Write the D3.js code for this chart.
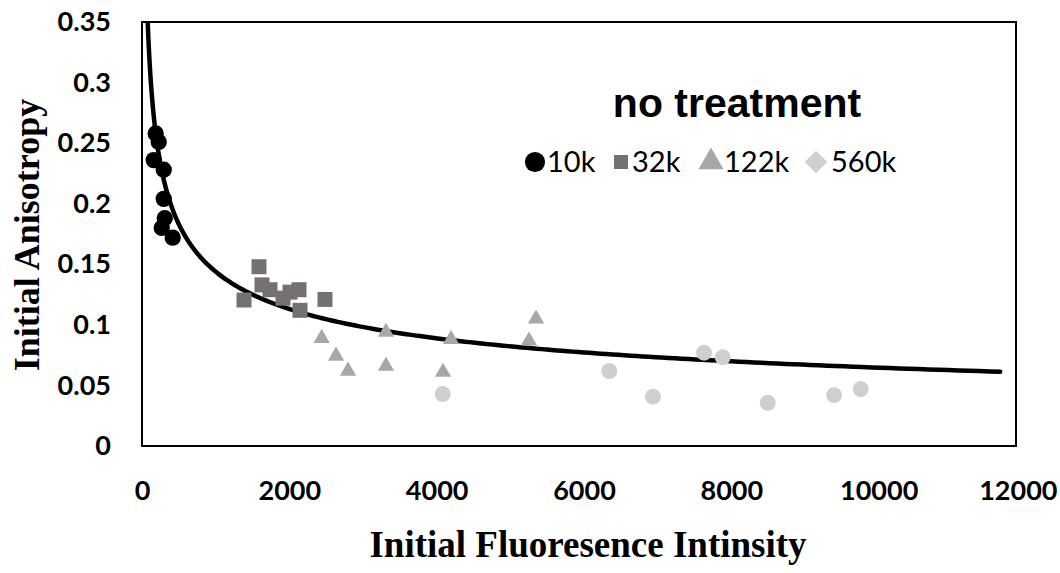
<!DOCTYPE html>
<html>
<head>
<meta charset="utf-8">
<script src="https://cdn.jsdelivr.net/npm/d3@7"></script>
<style>
  html, body { margin: 0; padding: 0; background: #fff; }
  svg { display: block; }
</style>
</head>
<body>
<svg id="chart" width="1060" height="573"></svg>
<script>
// Initial fluorescence intensity vs. initial anisotropy, four molecular weights
const seriesNames = ["10k", "32k", "122k", "560k"];

const x10k = [186, 227, 159, 295, 295, 309, 268, 417];
const y10k = [0.258, 0.251, 0.236, 0.228, 0.204, 0.188, 0.180, 0.172];

const x32k = [1385, 1588, 1629, 1738, 1914, 2009, 2131, 2145, 2484];
const y32k = [0.1205, 0.148, 0.133, 0.129, 0.122, 0.127, 0.129, 0.112, 0.121];

const x122k = [2439, 2634, 2797, 3312, 3312, 4195, 4086, 5349, 5253];
const y122k = [0.089, 0.0743, 0.0619, 0.094, 0.066, 0.088, 0.061, 0.105, 0.0868];

const x560k = [4082, 6343, 6937, 7629, 7883, 8494, 9394, 9756];
const y560k = [0.0429, 0.0619, 0.0407, 0.077, 0.0732, 0.0357, 0.042, 0.047];

// Power trendline y = a * x^b over all points
const trendA = 1.587;
const trendB = -0.3475;
const trendEnd = 11650;

const xTicks = [0, 2000, 4000, 6000, 8000, 10000, 12000];
const yTicks = [0, 0.05, 0.1, 0.15, 0.2, 0.25, 0.3, 0.35];

const titleText = "no treatment";
const xTitle = "Initial Fluoresence Intinsity";
const yTitle = "Initial Anisotropy";

const colors = ["#000000", "#767171", "#a8a6a6", "#d0cece"];

const svg = d3.select("#chart");

const x = d3.scaleLinear().domain([0, 12000]).range([142, 1026]);
const y = d3.scaleLinear().domain([0, 0.35]).range([446, 22]);

// plot frame
svg.append("rect")
  .attr("x", 142).attr("y", 22)
  .attr("width", 874).attr("height", 424)
  .attr("fill", "none").attr("stroke", "#000").attr("stroke-width", 2);

// axes (labels only)
const xAxis = svg.append("g")
  .attr("transform", "translate(0,478)")
  .call(d3.axisBottom(x).tickValues(xTicks).tickSize(0).tickFormat(d3.format("d")));
xAxis.select(".domain").remove();
xAxis.selectAll("text")
  .attr("dy", "0.71em")
  .style("font-family", "Lato, sans-serif")
  .style("font-weight", "bold")
  .style("font-size", "27px")
  .attr("fill", "#000");
// keep the last label inside the page
xAxis.selectAll(".tick").filter(d => d === 12000).select("text")
  .attr("text-anchor", "end")
  .attr("x", 31);

const yAxis = svg.append("g")
  .attr("transform", "translate(111,0)")
  .call(d3.axisLeft(y).tickValues(yTicks).tickSize(0).tickFormat(d => d === 0 ? "0" : String(+d.toFixed(2))));
yAxis.select(".domain").remove();
yAxis.selectAll("text")
  .attr("x", 0)
  .style("font-family", "Lato, sans-serif")
  .style("font-weight", "bold")
  .style("font-size", "27px")
  .attr("fill", "#000");

// axis titles
svg.append("text")
  .attr("x", 588).attr("y", 557)
  .attr("text-anchor", "middle")
  .style("font-family", "'Liberation Serif', 'Times New Roman', serif")
  .style("font-weight", "bold")
  .style("font-size", "37px")
  .text(xTitle);

svg.append("text")
  .attr("transform", "translate(39,235) rotate(-90)")
  .attr("text-anchor", "middle")
  .style("font-family", "'Liberation Serif', 'Times New Roman', serif")
  .style("font-weight", "bold")
  .style("font-size", "36px")
  .text(yTitle);

// clip to plot area
svg.append("clipPath").attr("id", "plotClip")
  .append("rect").attr("x", 142).attr("y", 22).attr("width", 874).attr("height", 424);

const plot = svg.append("g").attr("clip-path", "url(#plotClip)");

// trendline
const trendStart = Math.pow(0.35 / trendA, 1 / trendB);
const trendPts = d3.range(0, 401).map(i => {
  const t = i / 400;
  const xv = trendStart * Math.pow(trendEnd / trendStart, t);
  return [xv, trendA * Math.pow(xv, trendB)];
});
plot.append("path")
  .datum(trendPts)
  .attr("fill", "none")
  .attr("stroke", "#000")
  .attr("stroke-width", 4.5)
  .attr("stroke-linecap", "round")
  .attr("d", d3.line().x(d => x(d[0])).y(d => y(d[1])));

const sets = [
  { xs: x10k, ys: y10k, shape: d3.symbolCircle, size: 210, color: colors[0] },
  { xs: x32k, ys: y32k, shape: d3.symbolSquare, size: 225, color: colors[1] },
  { xs: x122k, ys: y122k, shape: d3.symbolTriangle, size: 115, color: colors[2] },
  { xs: x560k, ys: y560k, shape: d3.symbolCircle, size: 200, color: colors[3] }
];

// draw lighter series first so darker ones sit above
[3, 2, 1, 0].forEach(k => {
  const s = sets[k];
  const pts = s.xs.map((xv, i) => [xv, s.ys[i]]);
  svg.append("g").selectAll("path")
    .data(pts)
    .join("path")
    .attr("transform", d => `translate(${x(d[0])},${y(d[1])})`)
    .attr("d", d3.symbol().type(s.shape).size(s.size))
    .attr("fill", s.color);
});

// legend
svg.append("text")
  .attr("x", 737).attr("y", 117)
  .attr("text-anchor", "middle")
  .style("font-family", "'Liberation Sans', Arial, sans-serif")
  .style("font-weight", "bold")
  .style("font-size", "41px")
  .text(titleText);

const legendItems = [
  { mx: 535, tx: 547, shape: d3.symbolCircle, size: 320, color: colors[0], rot: 0 },
  { mx: 621, tx: 632, shape: d3.symbolSquare, size: 196, color: colors[1], rot: 0 },
  { mx: 711, tx: 724, shape: d3.symbolTriangle, size: 270, color: colors[2], rot: 0 },
  { mx: 816, tx: 831, shape: d3.symbolSquare, size: 256, color: colors[3], rot: 45 }
];
const lg = svg.append("g");
legendItems.forEach((it, i) => {
  lg.append("path")
    .attr("transform", `translate(${it.mx},162) rotate(${it.rot})`)
    .attr("d", d3.symbol().type(it.shape).size(it.size))
    .attr("fill", it.color);
  lg.append("text")
    .attr("x", it.tx).attr("y", 172)
    .style("font-family", "Lato, sans-serif")
    .style("font-size", "29px")
    .text(seriesNames[i]);
});
</script>
</body>
</html>
